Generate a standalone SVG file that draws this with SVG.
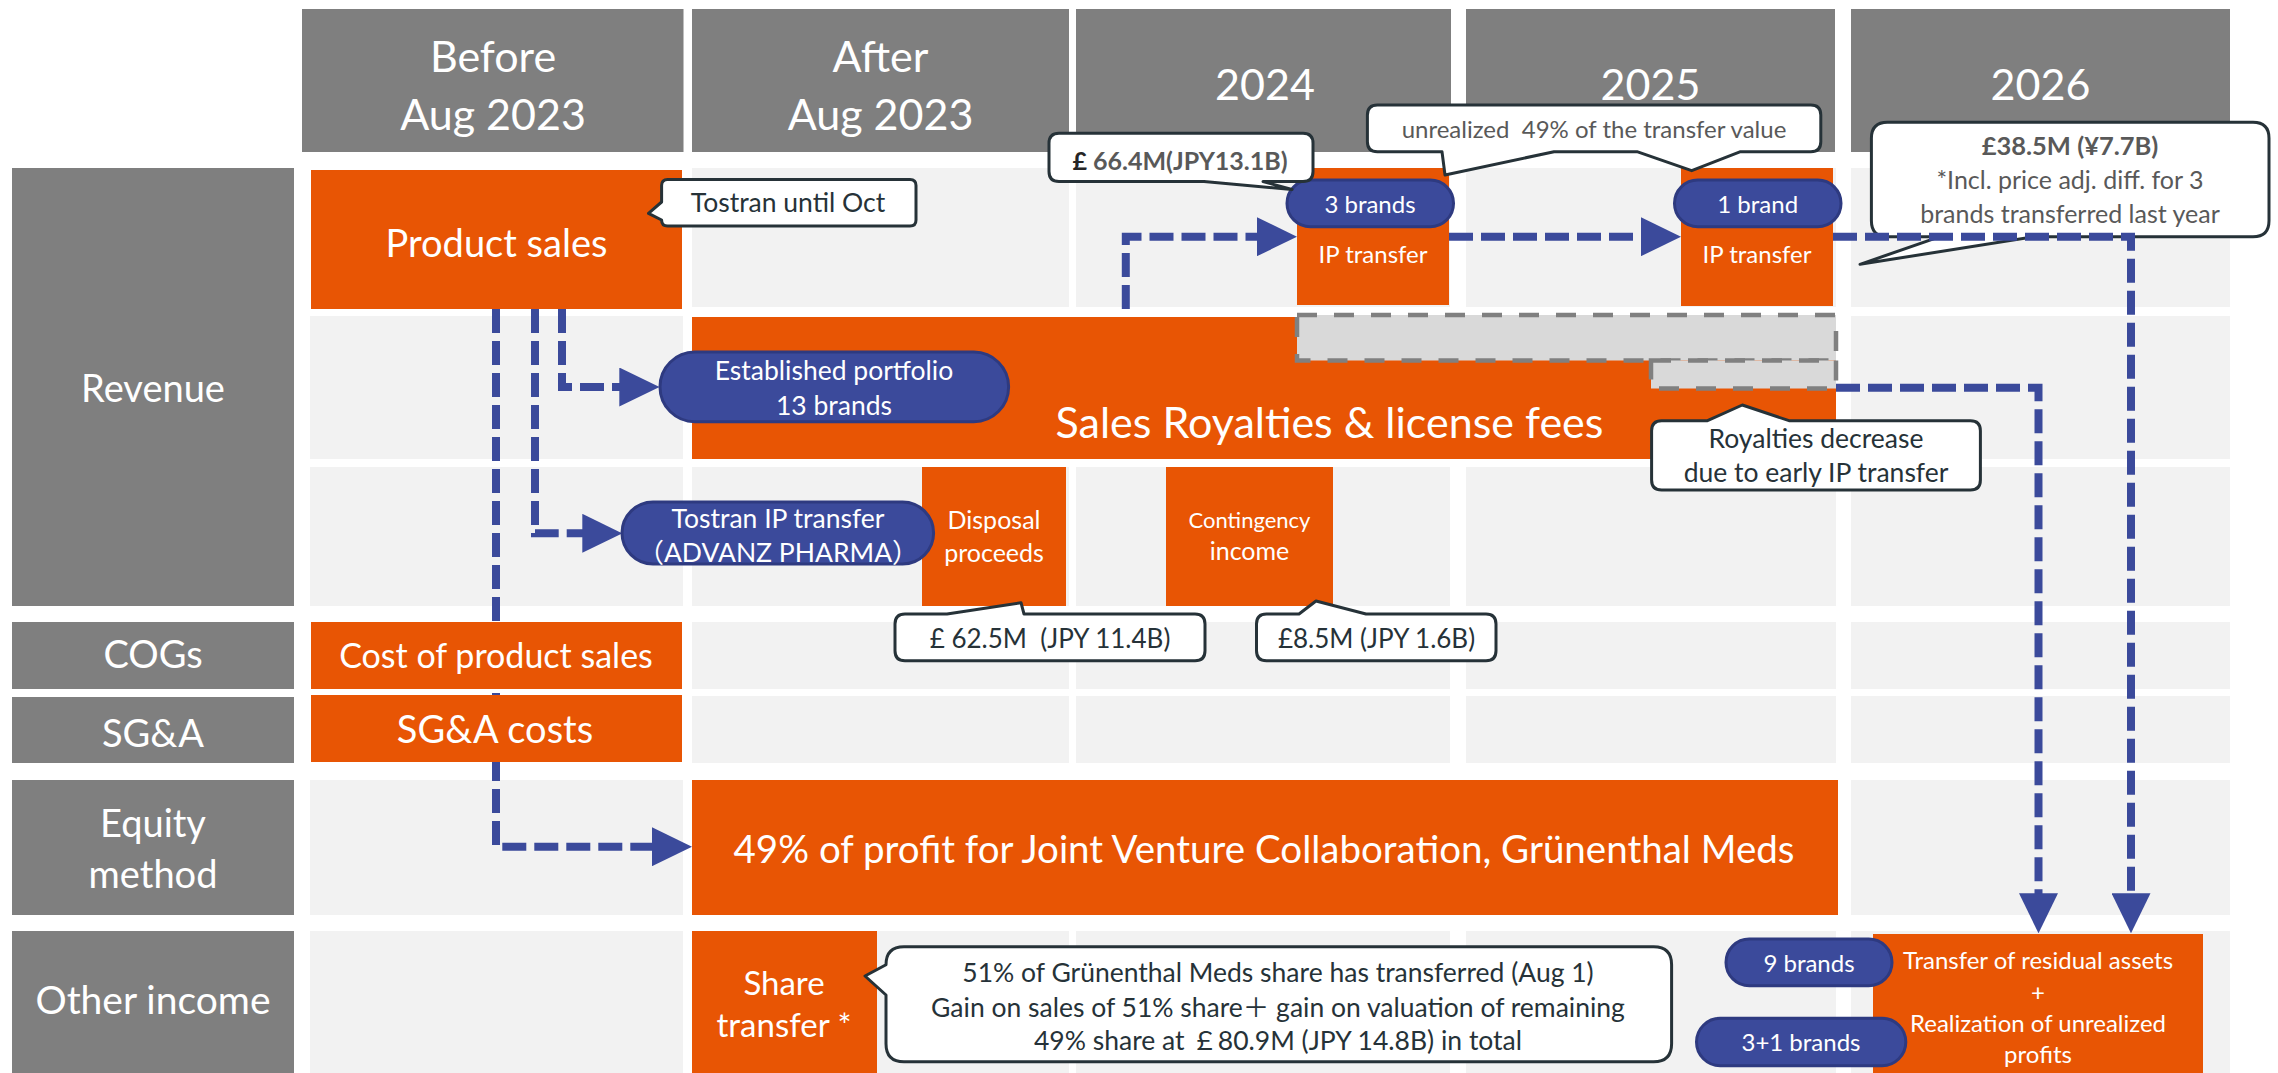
<svg xmlns="http://www.w3.org/2000/svg" width="2278" height="1073" viewBox="0 0 2278 1073">
<defs>
<style>
.hdr{fill:#7f7f7f}
.cell{fill:#f2f2f2}
.or{fill:#e85504}
.pill{fill:#3b4a9b;stroke:#2e3a80;stroke-width:3}
.co{fill:#fff;stroke:#263238;stroke-width:3;stroke-linejoin:round}
.gbox{fill:#d9d9d9;stroke:#808080;stroke-width:4.5;stroke-dasharray:20 17}
.cn{fill:none;stroke:#3b4a9b;stroke-width:8;stroke-dasharray:24 8}
text{font-family:Lato,'Noto Sans','Noto Sans CJK JP',sans-serif;text-anchor:middle}
.w{fill:#fff}
.d{fill:#263238}
.g{fill:#595959}
.b{font-weight:bold}
</style>
<marker id="ah" viewBox="0 0 40 39" markerWidth="40" markerHeight="39" refX="2" refY="19.5" markerUnits="userSpaceOnUse" orient="auto">
<path d="M0,0 L40,19.5 L0,39 Z" fill="#3b4a9b"/>
</marker>
</defs>
<rect width="2278" height="1073" fill="#fff"/>

<g id="grid">
<rect class="cell" x="692" y="168" width="377" height="139"/>
<rect class="cell" x="1076" y="168" width="374" height="139"/>
<rect class="cell" x="1466" y="168" width="370" height="139"/>
<rect class="cell" x="1851" y="168" width="379" height="139"/>
<rect class="cell" x="310" y="316" width="373" height="143"/>
<rect class="cell" x="1851" y="316" width="379" height="143"/>
<rect class="cell" x="310" y="467" width="373" height="139"/>
<rect class="cell" x="692" y="467" width="377" height="139"/>
<rect class="cell" x="1076" y="467" width="374" height="139"/>
<rect class="cell" x="1466" y="467" width="370" height="139"/>
<rect class="cell" x="1851" y="467" width="379" height="139"/>
<rect class="cell" x="692" y="622" width="377" height="67"/>
<rect class="cell" x="1076" y="622" width="374" height="67"/>
<rect class="cell" x="1466" y="622" width="370" height="67"/>
<rect class="cell" x="1851" y="622" width="379" height="67"/>
<rect class="cell" x="692" y="696" width="377" height="67"/>
<rect class="cell" x="1076" y="696" width="374" height="67"/>
<rect class="cell" x="1466" y="696" width="370" height="67"/>
<rect class="cell" x="1851" y="696" width="379" height="67"/>
<rect class="cell" x="310" y="780" width="373" height="135"/>
<rect class="cell" x="1851" y="780" width="379" height="135"/>
<rect class="cell" x="310" y="931" width="373" height="142"/>
<rect class="cell" x="692" y="931" width="377" height="142"/>
<rect class="cell" x="1076" y="931" width="374" height="142"/>
<rect class="cell" x="1466" y="931" width="370" height="142"/>
<rect class="cell" x="1851" y="931" width="379" height="142"/>
</g>

<g id="hdr-before"><rect class="hdr" x="302" y="9" width="381.5" height="143"/>
<text class="w" x="493" y="71.7" font-size="43">Before</text><text class="w" x="493" y="130" font-size="43">Aug 2023</text></g>
<g id="hdr-after"><rect class="hdr" x="692" y="9" width="377" height="143"/>
<text class="w" x="880.5" y="71.7" font-size="43">After</text><text class="w" x="880.5" y="130" font-size="43">Aug 2023</text></g>
<g id="hdr-2024"><rect class="hdr" x="1076" y="9" width="375" height="143"/>
<text class="w" x="1265" y="100" font-size="43">2024</text></g>
<g id="hdr-2025"><rect class="hdr" x="1466" y="9" width="369" height="143"/>
<text class="w" x="1650.5" y="100" font-size="43">2025</text></g>
<g id="hdr-2026"><rect class="hdr" x="1851" y="9" width="379" height="143"/>
<text class="w" x="2040.5" y="100" font-size="43">2026</text></g>

<g id="lbl-revenue"><rect class="hdr" x="12" y="168" width="282" height="438"/>
<text class="w" x="153" y="402" font-size="38">Revenue</text></g>
<g id="lbl-cogs"><rect class="hdr" x="12" y="622" width="282" height="67"/>
<text class="w" x="153" y="668.3" font-size="38">COGs</text></g>
<g id="lbl-sga"><rect class="hdr" x="12" y="697" width="282" height="66"/>
<text class="w" x="153" y="746.7" font-size="38">SG&amp;A</text></g>
<g id="lbl-equity"><rect class="hdr" x="12" y="780" width="282" height="135"/>
<text class="w" x="153" y="836.7" font-size="38">Equity</text><text class="w" x="153" y="888.3" font-size="38">method</text></g>
<g id="lbl-other"><rect class="hdr" x="12" y="931" width="282" height="142"/>
<text class="w" x="153" y="1014" font-size="39">Other income</text></g>

<g id="callout-38m">
<path class="co" d="M1887.4,122.3 H2253 Q2269,122.3 2269,138.3 V220.7 Q2269,236.7 2253,236.7 H2034 L1860,264.3 L1940,236.7 H1887.4 Q1871.4,236.7 1871.4,220.7 V138.3 Q1871.4,122.3 1887.4,122.3 Z"/>
<text class="g b" x="2070" y="155" font-size="25.5">£38.5M (¥7.7B)</text>
<text class="g" x="2070" y="189.3" font-size="25">*Incl. price adj. diff. for 3</text>
<text class="g" x="2070" y="222.7" font-size="25">brands transferred last year</text>
</g>

<g id="connectors">
<path class="cn" d="M496,309 V846.7 H654" marker-end="url(#ah)"/>
<path class="cn" d="M535,309 V533.3 H584.3" marker-end="url(#ah)"/>
<path class="cn" d="M562,309 V387 H621.3" marker-end="url(#ah)"/>
<path class="cn" d="M1125.8,309 V236.7 H1259" marker-end="url(#ah)"/>
<path class="cn" d="M1449,236.7 H1643" marker-end="url(#ah)"/>
<path class="cn" d="M1833,236.7 H2131 V895.3" marker-end="url(#ah)"/>
<path class="cn" d="M1836,387.7 H2038.5 V895.3" marker-end="url(#ah)"/>
</g>

<g id="product-sales"><rect class="or" x="311" y="170" width="371" height="139"/>
<text class="w" x="496.5" y="256.7" font-size="38">Product sales</text></g>
<g id="royalties"><rect class="or" x="692" y="317" width="1144" height="142"/>
<text class="w" x="1329.5" y="438.3" font-size="43">Sales Royalties &amp; license fees</text></g>
<g id="royalty-decrease-1"><rect class="gbox" x="1297" y="315" width="539" height="45.5"/></g>
<g id="royalty-decrease-2"><rect class="gbox" x="1651" y="360.5" width="185" height="28"/></g>
<g id="disposal"><rect class="or" x="922" y="467" width="144" height="139"/>
<text class="w" x="994" y="529.3" font-size="25">Disposal</text><text class="w" x="994" y="561.7" font-size="25">proceeds</text></g>
<g id="contingency"><rect class="or" x="1166" y="467" width="167" height="139"/>
<text class="w" x="1249.5" y="528.3" font-size="22">Contingency</text><text class="w" x="1249.5" y="560" font-size="25">income</text></g>
<g id="ip-2024"><rect class="or" x="1297" y="168" width="152" height="137"/>
<text class="w" x="1373" y="262.7" font-size="24">IP transfer</text></g>
<g id="ip-2025"><rect class="or" x="1681" y="168" width="152" height="138"/>
<text class="w" x="1757" y="262.7" font-size="24">IP transfer</text></g>
<g id="cogs-cost"><rect class="or" x="311" y="622" width="371" height="67"/>
<text class="w" x="496" y="668.3" font-size="34">Cost of product sales</text></g>
<g id="sga-cost"><rect class="or" x="311" y="695" width="371" height="67"/>
<text class="w" x="495" y="743.3" font-size="38">SG&amp;A costs</text></g>
<g id="equity-profit"><rect class="or" x="692" y="780" width="1146" height="135"/>
<text class="w" x="1264" y="863.3" font-size="38.5">49% of profit for Joint Venture Collaboration, Grünenthal Meds</text></g>
<g id="share-transfer"><rect class="or" x="692" y="931" width="185" height="142"/>
<text class="w" x="784" y="995" font-size="33">Share</text><text class="w" x="784" y="1036.7" font-size="33">transfer *</text></g>
<g id="residual"><rect class="or" x="1873" y="934" width="330" height="139"/>
<text class="w" x="2038" y="968.5" font-size="24">Transfer of residual assets</text>
<text class="w" x="2038" y="1000.5" font-size="24">+</text>
<text class="w" x="2038" y="1031.7" font-size="24">Realization of unrealized</text>
<text class="w" x="2038" y="1063.3" font-size="24">profits</text></g>

<g id="pill-established"><rect class="pill" x="660" y="352" width="348.6" height="69.7" rx="34.8"/>
<text class="w" x="834" y="380" font-size="26.5">Established portfolio</text><text class="w" x="834" y="415" font-size="26.5">13 brands</text></g>
<g id="pill-tostran"><rect class="pill" x="622" y="502" width="311.6" height="62" rx="31"/>
<text class="w" x="778" y="528.3" font-size="26.5">Tostran IP transfer</text><text class="w" x="778" y="561.7" font-size="26.5">（ADVANZ PHARMA）</text></g>
<g id="pill-3brands"><rect class="pill" x="1287" y="180" width="166.5" height="46.7" rx="23.3"/>
<text class="w" x="1370" y="212.7" font-size="24">3 brands</text></g>
<g id="pill-1brand"><rect class="pill" x="1674.5" y="180" width="166.5" height="46.7" rx="23.3"/>
<text class="w" x="1757.7" y="212.7" font-size="24">1 brand</text></g>
<g id="pill-9brands"><rect class="pill" x="1726" y="939" width="166" height="46.7" rx="23.3"/>
<text class="w" x="1809" y="971.7" font-size="24">9 brands</text></g>
<g id="pill-3plus1"><rect class="pill" x="1696.5" y="1018.3" width="209.3" height="47.4" rx="23.7"/>
<text class="w" x="1801" y="1050.7" font-size="24">3+1 brands</text></g>

<g id="callout-tostran-oct">
<path class="co" d="M667.6,179.5 H910 Q916,179.5 916,185.5 V220 Q916,226 910,226 H667.6 Q661.6,226 661.6,220 L648.5,213.3 L661.6,202 V185.5 Q661.6,179.5 667.6,179.5 Z"/>
<text class="d" x="788" y="211.7" font-size="26.5">Tostran until Oct</text></g>
<g id="callout-66m">
<path class="co" d="M1059,133.3 H1303 Q1313,133.3 1313,143.3 V171.5 Q1313,181.5 1303,181.5 H1263 L1292,189.5 L1204,181.5 H1059 Q1049,181.5 1049,171.5 V143.3 Q1049,133.3 1059,133.3 Z"/>
<text class="g b" x="1180" y="170" font-size="25"><tspan fill="#262626">£</tspan> 66.4M(JPY13.1B)</text></g>
<g id="callout-unrealized">
<path class="co" d="M1377.4,105 H1810.8 Q1820.8,105 1820.8,115 V141.7 Q1820.8,151.7 1810.8,151.7 H1740.5 L1691.7,170.7 L1637,151.7 H1554 L1445,175 L1442,151.7 H1377.4 Q1367.4,151.7 1367.4,141.7 V115 Q1367.4,105 1377.4,105 Z"/>
<text class="g" x="1594" y="138.3" font-size="24" xml:space="preserve">unrealized  49% of the transfer value</text></g>
<g id="callout-royalty-decrease">
<path class="co" d="M1661.6,420.7 H1707.5 L1742.3,405 L1789,420.7 H1970.4 Q1980.4,420.7 1980.4,430.7 V480 Q1980.4,490 1970.4,490 H1661.6 Q1651.6,490 1651.6,480 V430.7 Q1651.6,420.7 1661.6,420.7 Z"/>
<text class="d" x="1816" y="448.3" font-size="26.5">Royalties decrease</text>
<text class="d" x="1816" y="482.3" font-size="26.5">due to early IP transfer</text></g>
<g id="callout-62m">
<path class="co" d="M905,614 H947 L1021,602.7 L1024,614 H1195 Q1205,614 1205,624 V650.7 Q1205,660.7 1195,660.7 H905 Q895,660.7 895,650.7 V624 Q895,614 905,614 Z"/>
<text class="d" x="1050" y="648.3" font-size="26" xml:space="preserve">£ 62.5M  (JPY 11.4B)</text></g>
<g id="callout-8m">
<path class="co" d="M1266.5,614 H1299 L1316,601 L1366,614 H1486 Q1496,614 1496,624 V650.7 Q1496,660.7 1486,660.7 H1266.5 Q1256.5,660.7 1256.5,650.7 V624 Q1256.5,614 1266.5,614 Z"/>
<text class="d" x="1376.5" y="648.3" font-size="26">£8.5M (JPY 1.6B)</text></g>
<g id="callout-share">
<path class="co" d="M904,946.7 H1653.6 Q1671.6,946.7 1671.6,964.7 V1043.7 Q1671.6,1061.7 1653.6,1061.7 H904 Q886,1061.7 886,1043.7 V995 L865,976 L886,964.7 Q886,946.7 904,946.7 Z"/>
<text class="d" x="1278" y="981.7" font-size="26.5">51% of Grünenthal Meds share has transferred (Aug 1)</text>
<text class="d" x="1278" y="1016.7" font-size="26.5">Gain on sales of 51% share＋ gain on valuation of remaining</text>
<text class="d" x="1278" y="1050" font-size="26.5">49% share at ￡80.9M (JPY 14.8B) in total</text></g>
</svg>
